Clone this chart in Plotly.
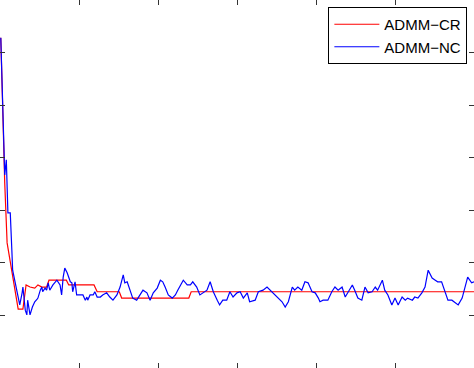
import plotly.graph_objects as go

# ADMM-CR (red) -- iteration vs objective
cr_iter = [1, 3, 4, 6, 9, 13, 16, 22, 23, 29, 33, 38, 44, 48, 53, 59, 62, 84, 87,
           119, 123, 151, 154, 239, 242, 600]
cr_val = [6.28, 5.10, 4.15, 3.52, 2.38, 2.02, 1.77, 1.20, 1.12, 1.12, 1.58, 1.54,
          1.52, 1.58, 1.54, 1.54, 1.67, 1.67, 1.58, 1.58, 1.45, 1.45, 1.33, 1.33,
          1.45, 1.45]

# ADMM-NC (blue)
nc_iter = [1, 3, 4, 5, 6, 8, 9, 10, 13, 14, 15, 16, 19, 23, 25, 28, 29, 32, 34, 35,
           38, 41, 44, 47, 48, 51, 53, 54, 57, 59, 61, 63, 67, 72, 76, 78, 80, 82, 85,
           89, 91, 92, 95, 97, 101, 105, 108, 110, 111, 114, 118, 120, 123, 127, 130,
           135, 139, 143, 148, 152, 156, 158, 161, 165, 168, 173, 177, 181, 186, 190,
           194, 199, 203, 206, 209, 213, 218, 222, 225, 232, 237, 241, 244, 249, 253,
           257, 262, 266, 270, 275, 278, 282, 287, 291, 295, 300, 304, 308, 313, 316,
           323, 327, 333, 338, 342, 348, 352, 357, 361, 365, 370, 373, 377, 382, 386,
           390, 395, 399, 403, 405, 409, 415, 420, 424, 428, 433, 437, 440, 446, 449,
           453, 458, 462, 466, 471, 475, 478, 484, 487, 491, 496, 500, 504, 509, 513,
           516, 522, 525, 529, 534, 538, 542, 547, 551, 554, 559, 563, 567, 572, 576,
           580, 585, 589, 592, 597, 600]
nc_val = [6.28, 5.29, 4.53, 3.96, 3.67, 3.96, 3.48, 2.95, 2.95, 2.38, 2.24, 1.86,
          1.62, 1.35, 1.20, 1.43, 1.54, 1.10, 1.01, 1.29, 1.01, 1.16, 1.26, 1.31,
          1.33, 1.48, 1.54, 1.45, 1.52, 1.48, 1.62, 1.48, 1.58, 1.67, 1.58, 1.39,
          1.73, 1.90, 1.81, 1.64, 1.62, 1.45, 1.64, 1.39, 1.39, 1.39, 1.29, 1.35,
          1.29, 1.39, 1.39, 1.45, 1.35, 1.35, 1.39, 1.43, 1.35, 1.29, 1.39, 1.54,
          1.77, 1.62, 1.64, 1.48, 1.33, 1.29, 1.39, 1.48, 1.43, 1.29, 1.43, 1.52,
          1.67, 1.64, 1.54, 1.39, 1.33, 1.39, 1.48, 1.67, 1.58, 1.58, 1.64, 1.54,
          1.39, 1.43, 1.48, 1.64, 1.45, 1.29, 1.20, 1.29, 1.29, 1.45, 1.35, 1.43,
          1.45, 1.33, 1.43, 1.26, 1.29, 1.45, 1.48, 1.54, 1.48, 1.39, 1.33, 1.26,
          1.16, 1.26, 1.54, 1.48, 1.54, 1.48, 1.64, 1.62, 1.45, 1.43, 1.33, 1.26,
          1.29, 1.29, 1.45, 1.54, 1.48, 1.54, 1.35, 1.43, 1.58, 1.48, 1.33, 1.29,
          1.54, 1.43, 1.45, 1.54, 1.48, 1.67, 1.48, 1.39, 1.20, 1.33, 1.20, 1.35,
          1.29, 1.33, 1.29, 1.35, 1.33, 1.43, 1.54, 1.86, 1.71, 1.67, 1.64, 1.64,
          1.48, 1.29, 1.29, 1.24, 1.20, 1.33, 1.54, 1.73, 1.62, 1.64]

x_ticks = [0, 100, 200, 300, 400, 500, 600]
y_ticks = [0, 1, 2, 3, 4, 5, 6, 7]

fig = go.Figure()
fig.add_trace(go.Scatter(x=cr_iter, y=cr_val, mode="lines", name="ADMM\u2212CR",
                         line=dict(color="#ff0000", width=1.2)))
fig.add_trace(go.Scatter(x=nc_iter, y=nc_val, mode="lines", name="ADMM\u2212NC",
                         line=dict(color="#0000ff", width=1.2)))

axis_common = dict(showgrid=False, zeroline=False, showline=False,
                   ticks="inside", ticklen=5, tickwidth=1, tickcolor="#333333",
                   mirror="allticks", showticklabels=False)
fig.update_xaxes(range=[0, 600], tickvals=x_ticks, **axis_common)
fig.update_yaxes(range=[0, 7], tickvals=y_ticks, **axis_common)

fig.update_layout(
    width=474, height=368,
    margin=dict(l=0, r=0, t=0, b=0),
    paper_bgcolor="white", plot_bgcolor="white",
    font=dict(family="Liberation Sans, Arial, sans-serif", size=13, color="black"),
    legend=dict(x=0.986, y=0.981, xanchor="right", yanchor="top",
                bgcolor="white", bordercolor="black", borderwidth=1,
                font=dict(size=15), tracegroupgap=0, itemwidth=45),
    showlegend=True,
)

fig.write_html("out.html", config={"displayModeBar": False},
               post_script="document.body.style.margin='0';document.body.style.overflow='hidden';")
